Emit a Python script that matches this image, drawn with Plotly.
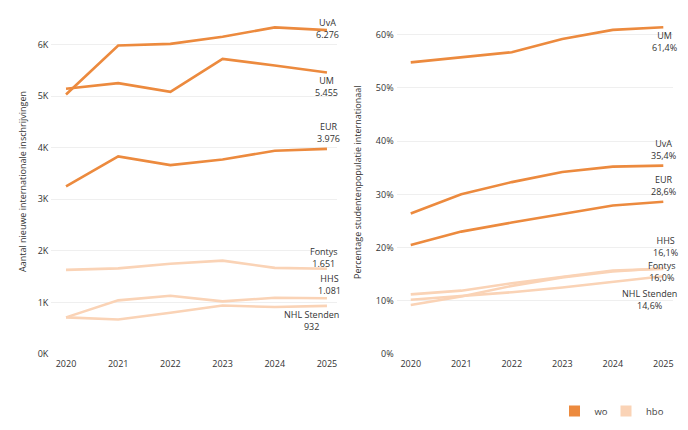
import plotly.graph_objects as go

years = [2020, 2021, 2022, 2023, 2024, 2025]

# Left: number of new international enrolments
inschr_uva = [5030, 5980, 6010, 6150, 6330, 6276]
inschr_um = [5140, 5250, 5080, 5720, 5590, 5455]
inschr_eur = [3250, 3830, 3660, 3770, 3940, 3976]
inschr_fontys = [1630, 1660, 1750, 1810, 1670, 1651]
inschr_hhs = [710, 1040, 1130, 1020, 1090, 1081]
inschr_nhl = [710, 670, 800, 940, 910, 932]

# Right: percentage international students
pct_um = [54.8, 55.8, 56.7, 59.2, 60.9, 61.4]
pct_uva = [26.4, 30.0, 32.3, 34.2, 35.2, 35.4]
pct_eur = [20.5, 23.0, 24.7, 26.3, 27.9, 28.6]
pct_hhs = [9.2, 10.8, 12.8, 14.4, 15.5, 16.1]
pct_fontys = [11.2, 11.9, 13.3, 14.5, 15.7, 16.0]
pct_nhl = [10.2, 10.9, 11.6, 12.5, 13.5, 14.6]

left_ticks = [0, 1000, 2000, 3000, 4000, 5000, 6000]
left_ticktext = ["0K", "1K", "2K", "3K", "4K", "5K", "6K"]
right_ticks = [0, 10, 20, 30, 40, 50, 60]
right_ticktext = ["0%", "10%", "20%", "30%", "40%", "50%", "60%"]

WO = "#EC8A3E"
HBO = "#FAD3B6"
TXT = "#333333"
FONT = "Open Sans"

# page body adds an 8px offset; figure is sized to the visible area
W, H = 680, 422

fig = go.Figure()

left = [
    ("UvA", inschr_uva, WO, "6.276"),
    ("UM", inschr_um, WO, "5.455"),
    ("EUR", inschr_eur, WO, "3.976"),
    ("Fontys", inschr_fontys, HBO, "1.651"),
    ("HHS", inschr_hhs, HBO, "1.081"),
    ("NHL Stenden", inschr_nhl, HBO, "932"),
]
right = [
    ("UM", pct_um, WO, "61,4%"),
    ("UvA", pct_uva, WO, "35,4%"),
    ("EUR", pct_eur, WO, "28,6%"),
    ("HHS", pct_hhs, HBO, "16,1%"),
    ("Fontys", pct_fontys, HBO, "16,0%"),
    ("NHL Stenden", pct_nhl, HBO, "14,6%"),
]

for name, vals, col, _ in sorted(left, key=lambda t: t[2] == WO):
    fig.add_trace(go.Scatter(x=years, y=vals, mode="lines", name=name,
                             line=dict(color=col, width=2.6), showlegend=False,
                             xaxis="x", yaxis="y"))
for name, vals, col, _ in sorted(right, key=lambda t: t[2] == WO):
    fig.add_trace(go.Scatter(x=years, y=vals, mode="lines", name=name,
                             line=dict(color=col, width=2.6), showlegend=False,
                             xaxis="x2", yaxis="y2"))

# legend entries
fig.add_trace(go.Scatter(x=[None], y=[None], mode="markers", name="wo", legend="legend",
                         marker=dict(symbol="square", size=11, color=WO), xaxis="x2", yaxis="y2"))
fig.add_trace(go.Scatter(x=[None], y=[None], mode="markers", name="hbo", legend="legend2",
                         marker=dict(symbol="square", size=11, color=HBO), xaxis="x2", yaxis="y2"))

# label offsets (px): yshift of label block centre, xshift
left_off = {
    "UvA": (1.2, 1),
    "UM": (-13.9, 0),
    "EUR": (16.6, 1.5),
    "Fontys": (11.8, -2.7),
    "HHS": (13.7, 2.7),
    "NHL Stenden": (-14.1, -15.5),
}
right_off = {
    "UM": (-14.4, 0.7),
    "UvA": (16.1, 0),
    "EUR": (16.3, 0),
    "HHS": (21.8, 2.3),
    "Fontys": (-2.4, -1.1),
    "NHL Stenden": (-23.5, -14.0),
}

annotations = []
for labels, offs, xr, yr in ((left, left_off, "x", "y"), (right, right_off, "x2", "y2")):
    for name, vals, col, valtxt in labels:
        ys, xs = offs[name]
        annotations.append(dict(x=years[-1], y=vals[-1], xref=xr, yref=yr,
                                text=name + "<br>" + valtxt, align="center",
                                showarrow=False, xanchor="center",
                                yanchor="middle", xshift=xs, yshift=ys,
                                font=dict(family=FONT, size=9, color=TXT)))

annotations.append(dict(x=14 / W, y=0.5, xref="paper", yref="paper",
                        text="Aantal nieuwe internationale inschrijvingen",
                        textangle=-90, showarrow=False, xanchor="center", yanchor="middle",
                        font=dict(family=FONT, size=9, color=TXT)))
annotations.append(dict(x=349 / W, y=0.5, xref="paper", yref="paper",
                        text="Percentage studentenpopulatie internationaal",
                        textangle=-90, showarrow=False, xanchor="center", yanchor="middle",
                        font=dict(family=FONT, size=9, color=TXT)))

axis_common = dict(showline=False, zeroline=False, ticks="",
                   tickfont=dict(family=FONT, size=9, color=TXT))

leg_font = dict(family=FONT, size=9.5, color="#444444")

fig.update_layout(
    width=W, height=H,
    margin=dict(l=0, r=0, t=2, b=75.5, autoexpand=False),
    paper_bgcolor="white", plot_bgcolor="white",
    font=dict(family=FONT, color=TXT),
    xaxis=dict(domain=[43.4 / W, 329.4 / W], range=[2019.72, 2025.2],
               tickvals=years, showgrid=False, anchor="y", ticklabelstandoff=3,
               **axis_common),
    yaxis=dict(domain=[0, 1], range=[0, 6667], tickvals=left_ticks,
               ticktext=left_ticktext, showgrid=True, gridcolor="#EFEFEF",
               gridwidth=1, anchor="x", ticklabelstandoff=2, **axis_common),
    xaxis2=dict(domain=[388.6 / W, 665.4 / W], range=[2019.72, 2025.2],
                tickvals=years, showgrid=False, anchor="y2", ticklabelstandoff=3,
                **axis_common),
    yaxis2=dict(domain=[0, 1], range=[0, 64.64], tickvals=right_ticks,
                ticktext=right_ticktext, showgrid=True, gridcolor="#EFEFEF",
                gridwidth=1, anchor="x2", ticklabelstandoff=2, **axis_common),
    legend=dict(orientation="h", x=546.5 / W, y=-57 / 344, xanchor="left", yanchor="middle",
                font=leg_font, bgcolor="rgba(0,0,0,0)"),
    legend2=dict(orientation="h", x=598 / W, y=-57 / 344, xanchor="left", yanchor="middle",
                 font=leg_font, bgcolor="rgba(0,0,0,0)"),
    annotations=annotations,
    hovermode=False,
)

fig.write_html("out.html")
